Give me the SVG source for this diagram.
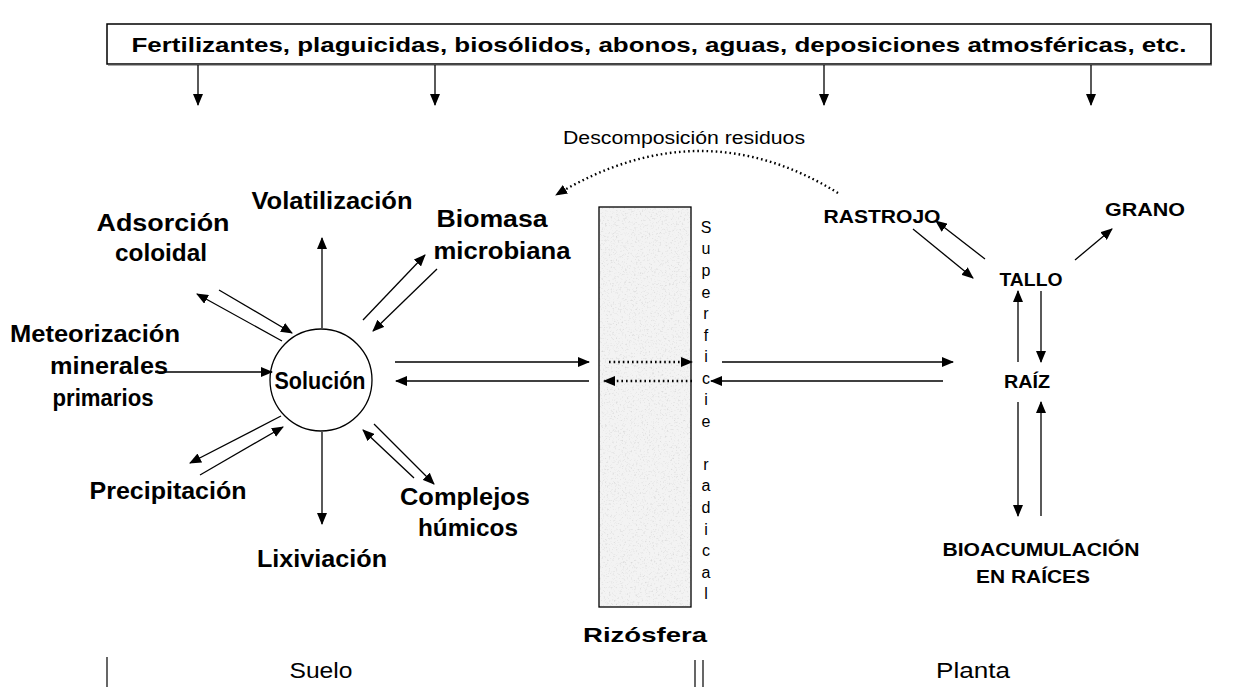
<svg xmlns="http://www.w3.org/2000/svg" width="1233" height="687" viewBox="0 0 1233 687">
<defs>
<style>
.b{font-family:"Liberation Sans",Arial,sans-serif;font-weight:bold;fill:#000;text-anchor:middle}
.r{font-family:"Liberation Sans",Arial,sans-serif;fill:#000;text-anchor:middle}
.ar{stroke:#000;stroke-width:1.3;fill:none;marker-end:url(#ah)}
.dt{stroke:#000;stroke-width:2.4;fill:none;stroke-dasharray:1.6 3;marker-end:url(#ah)}
.tick{stroke:#000;stroke-width:1.2}
</style>
<marker id="ah" markerUnits="userSpaceOnUse" markerWidth="12" markerHeight="10" refX="11" refY="5" orient="auto">
<path d="M0,0 L12,5 L0,10 z" fill="#000"/>
</marker>
<filter id="grain" x="0" y="0" width="100%" height="100%">
<feTurbulence type="fractalNoise" baseFrequency="0.55" numOctaves="3" seed="7" result="n"/>
<feColorMatrix in="n" type="matrix" values="0 0 0 0 0.7  0 0 0 0 0.7  0 0 0 0 0.7  3 0 0 0 -1.65" result="s"/>
<feComposite in="s" in2="SourceGraphic" operator="in"/>
</filter>
</defs>

<g id="fuentes">
<rect x="107" y="24" width="1104" height="40" fill="#fff" stroke="#000" stroke-width="1.5"/>
<line x1="108" y1="65" x2="1212" y2="65" stroke="#555" stroke-width="1"/>
<text class="b" x="659" y="52" font-size="21" textLength="1055" lengthAdjust="spacingAndGlyphs">Fertilizantes, plaguicidas, biosólidos, abonos, aguas, deposiciones atmosféricas, etc.</text>
</g>

<g id="descomposicion">
<text class="r" x="684" y="144" font-size="18" textLength="242" lengthAdjust="spacingAndGlyphs">Descomposición residuos</text>
</g>

<g id="solucion">
<circle cx="321" cy="380" r="51" fill="#fff" stroke="#000" stroke-width="1.3"/>
<text class="b" x="320" y="389" font-size="23" textLength="91" lengthAdjust="spacingAndGlyphs">Solución</text>
</g>
<g id="volatilizacion"><text class="b" x="332" y="209" font-size="23" textLength="161" lengthAdjust="spacingAndGlyphs">Volatilización</text></g>
<g id="biomasa">
<text class="b" x="492" y="227" font-size="23" textLength="111" lengthAdjust="spacingAndGlyphs">Biomasa</text>
<text class="b" x="502" y="259" font-size="23" textLength="137" lengthAdjust="spacingAndGlyphs">microbiana</text>
</g>
<g id="adsorcion">
<text class="b" x="163" y="231" font-size="23" textLength="133" lengthAdjust="spacingAndGlyphs">Adsorción</text>
<text class="b" x="161" y="261" font-size="23" textLength="92" lengthAdjust="spacingAndGlyphs">coloidal</text>
</g>
<g id="meteorizacion">
<text class="b" x="95" y="342" font-size="23" textLength="170" lengthAdjust="spacingAndGlyphs">Meteorización</text>
<text class="b" x="109" y="374" font-size="23" textLength="118" lengthAdjust="spacingAndGlyphs">minerales</text>
<text class="b" x="103" y="406" font-size="23" textLength="101" lengthAdjust="spacingAndGlyphs">primarios</text>
</g>
<g id="precipitacion"><text class="b" x="168" y="499" font-size="23" textLength="157" lengthAdjust="spacingAndGlyphs">Precipitación</text></g>
<g id="lixiviacion"><text class="b" x="322" y="567" font-size="23" textLength="130" lengthAdjust="spacingAndGlyphs">Lixiviación</text></g>
<g id="complejos">
<text class="b" x="465" y="505" font-size="23" textLength="130" lengthAdjust="spacingAndGlyphs">Complejos</text>
<text class="b" x="468" y="536" font-size="23" textLength="100" lengthAdjust="spacingAndGlyphs">húmicos</text>
</g>

<g id="rizosfera">
<rect x="599" y="207" width="92" height="400" fill="#f3f3f3"/>
<rect x="599" y="207" width="92" height="400" fill="#fff" filter="url(#grain)"/>
<rect x="599" y="207" width="92" height="400" fill="none" stroke="#000" stroke-width="1.3"/>
<text class="b" x="645" y="642" font-size="21" textLength="124" lengthAdjust="spacingAndGlyphs">Rizósfera</text>
</g>
<g id="superficie" font-size="16">
<text class="r" x="706" y="233">S</text>
<text class="r" x="706" y="254">u</text>
<text class="r" x="706" y="276">p</text>
<text class="r" x="706" y="298">e</text>
<text class="r" x="706" y="319">r</text>
<text class="r" x="706" y="341">f</text>
<text class="r" x="706" y="362">i</text>
<text class="r" x="706" y="384">c</text>
<text class="r" x="706" y="405">i</text>
<text class="r" x="706" y="427">e</text>
<text class="r" x="706" y="470">r</text>
<text class="r" x="706" y="491">a</text>
<text class="r" x="706" y="513">d</text>
<text class="r" x="706" y="535">i</text>
<text class="r" x="706" y="556">c</text>
<text class="r" x="706" y="578">a</text>
<text class="r" x="706" y="599">l</text>
</g>

<g id="rastrojo"><text class="b" x="882" y="223" font-size="19" textLength="117" lengthAdjust="spacingAndGlyphs">RASTROJO</text></g>
<g id="grano"><text class="b" x="1145" y="216" font-size="19" textLength="80" lengthAdjust="spacingAndGlyphs">GRANO</text></g>
<g id="tallo"><text class="b" x="1031" y="286" font-size="19" textLength="63" lengthAdjust="spacingAndGlyphs">TALLO</text></g>
<g id="raiz"><text class="b" x="1027" y="388" font-size="19" textLength="46" lengthAdjust="spacingAndGlyphs">RAÍZ</text></g>
<g id="bioacumulacion">
<text class="b" x="1041" y="556" font-size="18" textLength="197" lengthAdjust="spacingAndGlyphs">BIOACUMULACIÓN</text>
<text class="b" x="1033" y="583" font-size="18" textLength="114" lengthAdjust="spacingAndGlyphs">EN RAÍCES</text>
</g>

<g id="etiquetas">
<text class="r" x="321" y="678" font-size="22" textLength="63" lengthAdjust="spacingAndGlyphs">Suelo</text>
<text class="r" x="973" y="678" font-size="22" textLength="74" lengthAdjust="spacingAndGlyphs">Planta</text>
<line class="tick" x1="107" y1="657" x2="107" y2="687"/>
<line class="tick" x1="695" y1="660" x2="695" y2="687"/>
<line class="tick" x1="703" y1="660" x2="703" y2="687"/>
</g>

<g id="conectores">
<line class="ar" x1="198" y1="65" x2="198" y2="105"/>
<line class="ar" x1="435" y1="65" x2="435" y2="105"/>
<line class="ar" x1="824" y1="65" x2="824" y2="105"/>
<line class="ar" x1="1091" y1="65" x2="1091" y2="105"/>
<path class="dt" d="M838 193 Q700 108 556 195"/>
<line class="ar" x1="322" y1="328" x2="322" y2="238"/>
<line class="ar" x1="155" y1="372" x2="272" y2="372"/>
<line class="ar" x1="219" y1="290" x2="292" y2="333"/>
<line class="ar" x1="282" y1="341" x2="197" y2="294"/>
<line class="ar" x1="363" y1="320" x2="425" y2="255"/>
<line class="ar" x1="437" y1="269" x2="373" y2="331"/>
<line class="ar" x1="281" y1="416" x2="190" y2="463"/>
<line class="ar" x1="200" y1="475" x2="283" y2="427"/>
<line class="ar" x1="322" y1="432" x2="322" y2="524"/>
<line class="ar" x1="374" y1="424" x2="434" y2="484"/>
<line class="ar" x1="414" y1="478" x2="363" y2="430"/>
<line class="ar" x1="395" y1="362" x2="589" y2="362"/>
<line class="ar" x1="589" y1="381" x2="396" y2="381"/>
<line class="dt" x1="609" y1="362" x2="692" y2="362"/>
<line class="dt" x1="692" y1="381" x2="604" y2="381"/>
<line class="ar" x1="722" y1="362" x2="953" y2="362"/>
<line class="ar" x1="943" y1="381" x2="711" y2="381"/>
<line class="ar" x1="913" y1="229" x2="973" y2="278"/>
<line class="ar" x1="985" y1="259" x2="936" y2="221"/>
<line class="ar" x1="1075" y1="260" x2="1112" y2="229"/>
<line class="ar" x1="1018" y1="362" x2="1018" y2="291"/>
<line class="ar" x1="1041" y1="291" x2="1041" y2="362"/>
<line class="ar" x1="1018" y1="402" x2="1018" y2="516"/>
<line class="ar" x1="1041" y1="516" x2="1041" y2="402"/>
</g>
</svg>
